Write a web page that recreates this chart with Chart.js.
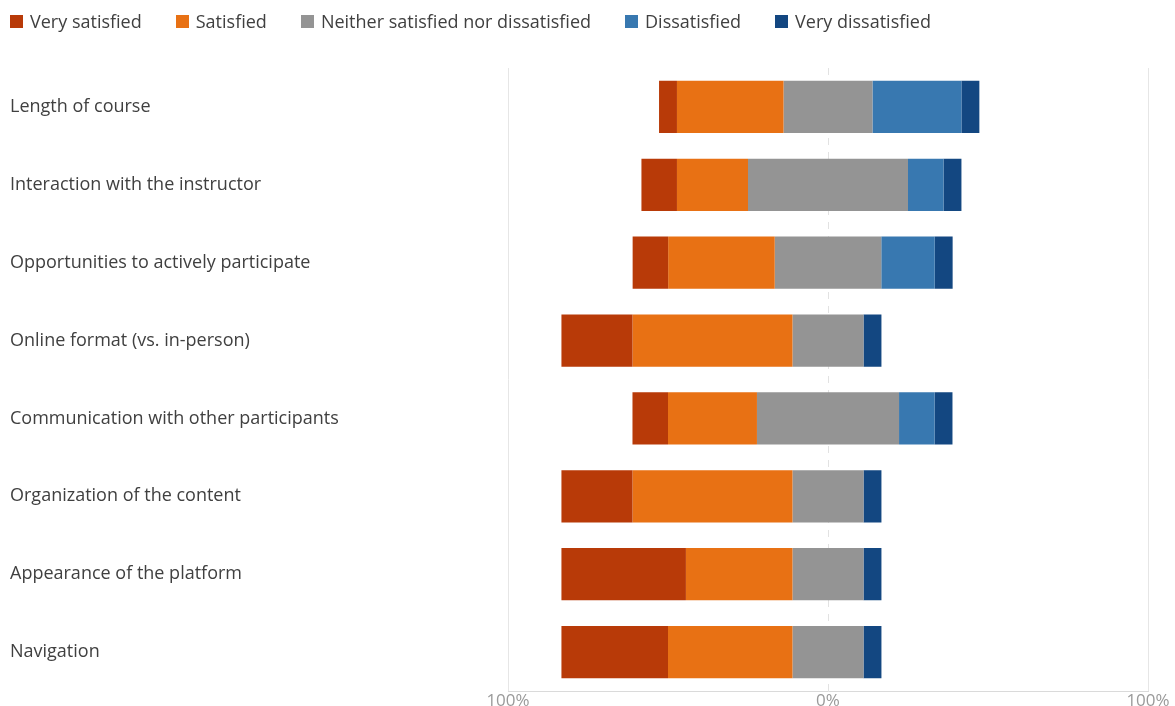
<!DOCTYPE html>
<html>
<head>
<meta charset="utf-8">
<script src="https://cdn.jsdelivr.net/npm/chart.js@4"></script>
<style>
  body { margin: 0; background: #fff; }
  #wrap { position: relative; width: 1175px; height: 706px; }
  #legend { position: absolute; left: 10px; top: 8px; display: flex; font: 18px 'Open Sans', sans-serif; color: #404040; line-height: 26px; }
  #legend .item { display: flex; align-items: center; margin-right: 34px; }
  #legend i { width: 13px; height: 13px; margin-right: 7px; display: inline-block; }
</style>
</head>
<body>
<div id="wrap">
  <div id="legend"></div>
  <canvas id="chart" width="1175" height="706"></canvas>
</div>
<script>
const categories = [
  'Length of course',
  'Interaction with the instructor',
  'Opportunities to actively participate',
  'Online format (vs. in-person)',
  'Communication with other participants',
  'Organization of the content',
  'Appearance of the platform',
  'Navigation'
];
const verySatisfied    = [5.6, 11.1, 11.1, 22.2, 11.1, 22.2, 38.9, 33.3];
const satisfied        = [33.3, 22.2, 33.3, 50.0, 27.8, 50.0, 33.3, 38.9];
const neutral          = [27.8, 50.0, 33.3, 22.2, 44.4, 22.2, 22.2, 22.2];
const dissatisfied     = [27.8, 11.1, 16.7, 0, 11.1, 0, 0, 0];
const veryDissatisfied = [5.6, 5.6, 5.6, 5.6, 5.6, 5.6, 5.6, 5.6];
const seriesNames = ['Very satisfied', 'Satisfied', 'Neither satisfied nor dissatisfied', 'Dissatisfied', 'Very dissatisfied'];
const colors = ['#b83a08', '#e87114', '#949494', '#3878b0', '#134781'];
const xTicks = [-100, 0, 100];

const FONT = "'Open Sans', sans-serif";
const series = [verySatisfied, satisfied, neutral, dissatisfied, veryDissatisfied];

// floating bars, centred on the middle of the neutral block
const datasets = seriesNames.map((name, k) => ({
    label: name,
    backgroundColor: colors[k],
    data: categories.map((c, i) => {
        let start = -(verySatisfied[i] + satisfied[i] + neutral[i] / 2);
        for (let j = 0; j < k; j++) start += series[j][i];
        return [start, start + series[k][i]];
    })
}));

// dashed line at 0%, behind the bars
const zeroLine = {
    id: 'zeroLine',
    beforeDatasetsDraw(chart) {
        const { ctx, chartArea, scales: { x } } = chart;
        const px = Math.round(x.getPixelForValue(0)) + 0.5;
        ctx.save();
        ctx.strokeStyle = '#e2e2e2';
        ctx.lineWidth = 1;
        ctx.setLineDash([7, 7]);
        ctx.beginPath();
        ctx.moveTo(px, chartArea.top);
        ctx.lineTo(px, chartArea.bottom);
        ctx.stroke();
        ctx.restore();
    }
};

const chart = new Chart(document.getElementById('chart'), {
    type: 'bar',
    data: { labels: categories, datasets },
    plugins: [zeroLine],
    options: {
        indexAxis: 'y',
        responsive: false,
        animation: false,
        layout: { padding: { left: 10, top: 68, right: 27, bottom: 0 } },
        datasets: { bar: { grouped: false, barPercentage: 0.67, categoryPercentage: 1 } },
        plugins: { legend: { display: false }, tooltip: { enabled: false } },
        scales: {
            x: {
                min: -100, max: 100,
                afterBuildTicks: a => { a.ticks = xTicks.map(v => ({ value: v })); },
                afterFit: a => { a.height = 15; },
                grid: { color: c => c.tick && c.tick.value === 0 ? 'rgba(0,0,0,0)' : '#e6e6e6', drawTicks: false },
                border: { color: '#dadada' },
                ticks: { padding: 0, color: '#9a9a9a', font: { family: FONT, size: 17 }, callback: v => Math.abs(v) + '%' }
            },
            y: {
                afterFit: a => { a.width = 498; },
                grid: { display: false },
                border: { display: false },
                ticks: { crossAlign: 'far', color: '#404040', font: { family: FONT, size: 18 } }
            }
        }
    }
});

document.getElementById('legend').innerHTML = chart.data.datasets
    .map(d => `<span class="item"><i style="background:${d.backgroundColor}"></i>${d.label}</span>`)
    .join('');
</script>
</body>
</html>
